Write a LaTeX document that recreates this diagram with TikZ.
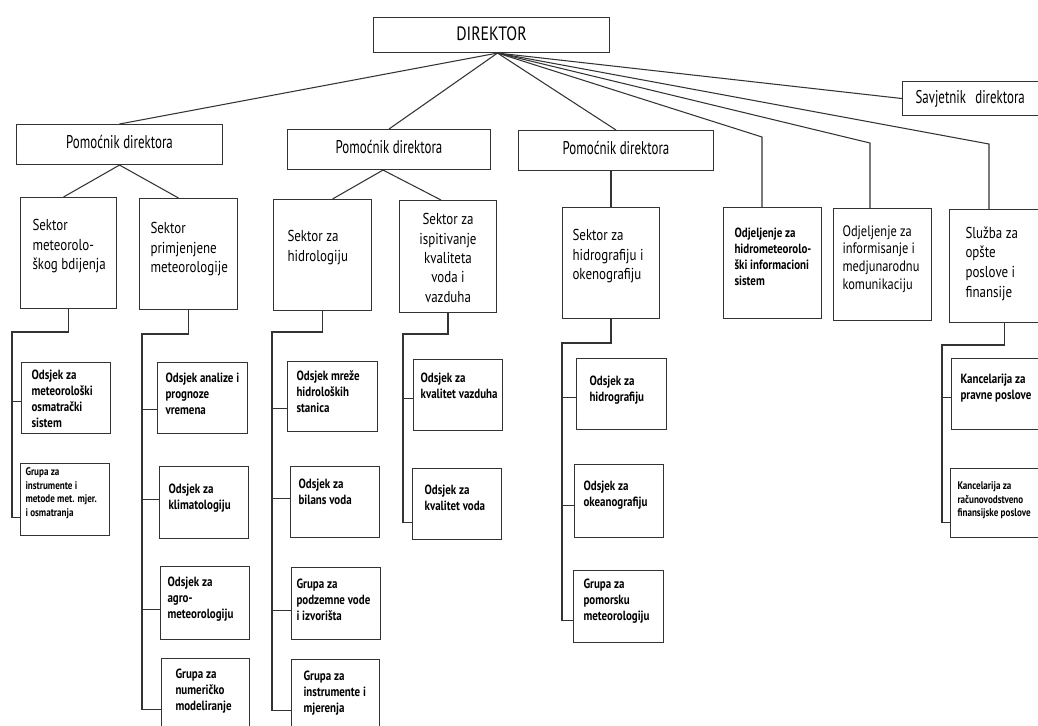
\documentclass[tikz,border=0pt]{standalone}
\usepackage{fontspec}
\setmainfont{PT Sans}[FakeStretch=0.82]
\newfontfamily{\narrowf}{PT Sans}[FakeStretch=0.7]
\usepackage{tikz}

\newlength{\pxl}\setlength{\pxl}{0.2mm}
\newcommand{\txtl}{\fontsize{9}{11}\selectfont}
\newcommand{\txtp}{\narrowf\fontsize{10.5}{12}\selectfont}
\newcommand{\txtm}{\fontsize{7.6}{9.2}\selectfont\bfseries}
\newcommand{\txts}{\fontsize{6.3}{7.8}\selectfont\bfseries}
% name, x, y, width, height, pad x, pad y, text
\newcommand{\orgbox}[8]{%
  \node[box] (#1) at (#2,#3) {\parbox[c][#5\pxl][t]{#4\pxl}{\raggedright\leftskip=#6\pxl\vspace*{#7\pxl}#8}};}

\tikzset{
  box/.style={draw=black!80, line width=0.6pt, inner sep=0pt, anchor=north west},
  link/.style={draw=black!80, line width=0.6pt}
}

\begin{document}
\begin{tikzpicture}[x=0.02cm, y=-0.02cm]
    \path[use as bounding box, clip] (0,0) rectangle (1038,725);

    % top
    \orgbox{dir}{373}{17}{236}{35}{0}{9}{\centering\fontsize{11}{12}\selectfont DIREKTOR}
    \orgbox{p1}{16}{124}{206}{40}{0}{11}{\centering\txtp Pomoćnik direktora}
    \orgbox{p2}{287}{129}{203}{40}{0}{11}{\centering\txtp Pomoćnik direktora}
    \orgbox{p3}{518}{130}{195}{40}{0}{11}{\centering\txtp Pomoćnik direktora}
    \orgbox{sav}{902}{81}{145}{34}{13}{9}{\txtp Savjetnik\enspace direktora}

    % sektori
    \orgbox{s1}{20}{197}{96}{111}{12}{22}{\txtl Sektor\\ meteorolo-\\ škog bdijenja}
    \orgbox{s2}{139}{198}{98}{111}{11}{24}{\txtl Sektor\\ primjenjene\\ meteorologije}
    \orgbox{s3}{273}{199}{98}{111}{14}{31}{\txtl Sektor za\\ hidrologiju}
    \orgbox{s4}{399}{200}{97}{112}{0}{13}{\centering\txtl Sektor za\\ ispitivanje\\ kvaliteta\\ voda i\\ vazduha}
    \orgbox{s5}{562}{207}{97}{111}{10}{22}{\txtl Sektor za\\ hidrografiju i\\ okenografiju}
    \orgbox{odj1}{723}{207}{98}{111}{11}{20}{\txtm Odjeljenje za\\ hidrometeorolo-\\ ški informacioni\\ sistem}
    \orgbox{odj2}{833}{208}{98}{112}{9}{17}{\fontsize{8.6}{10}\selectfont Odjeljenje za\\ informisanje i\\ medjunarodnu\\ komunikaciju}
    \orgbox{sl}{949}{209}{110}{113}{16}{17}{\fontsize{9}{11.3}\selectfont Služba za\\ opšte\\ poslove i\\ finansije}

    % odsjeci i grupe
    \orgbox{o11}{21}{362}{89}{71}{10}{7}{\txtm Odsjek za\\ meteorološki\\ osmatrački\\ sistem}
    \orgbox{g12}{20}{463}{89}{72}{5}{4}{\txts Grupa za\\ instrumente i\\ metode met. mjer.\\ i osmatranja}
    \orgbox{o21}{157}{362}{90}{71}{8}{10}{\txtm Odsjek analize i\\ prognoze\\ vremena}
    \orgbox{o22}{159}{466}{89}{72}{9}{17}{\txtm Odsjek za\\ klimatologiju}
    \orgbox{o23}{160}{566}{89}{73}{7}{10}{\txtm Odsjek za\\ agro-\\ meteorologiju}
    \orgbox{g24}{161}{658}{88}{72}{14}{10}{\txtm Grupa za\\ numeričko\\ modeliranje}
    \orgbox{o31}{287}{361}{90}{70}{9}{9}{\txtm Odsjek mreže\\ hidroloških\\ stanica}
    \orgbox{o32}{290}{466}{89}{71}{8}{12}{\txtm Odsjek za\\ bilans voda}
    \orgbox{g33}{291}{567}{89}{72}{5}{11}{\txtm Grupa za\\ podzemne vode\\ i izvorišta}
    \orgbox{g34}{291}{659}{88}{72}{12}{11}{\txtm Grupa za\\ instrumente i\\ mjerenja}
    \orgbox{o41}{413}{359}{89}{71}{7}{13}{\txtm Odsjek za\\ kvalitet vazduha}
    \orgbox{o42}{412}{468}{89}{71}{12}{16}{\txtm Odsjek za\\ kvalitet voda}
    \orgbox{o51}{576}{358}{90}{71}{13}{17}{\txtm Odsjek za\\ hidrografiju}
    \orgbox{o52}{574}{464}{89}{73}{9}{16}{\txtm Odsjek za\\ okeanografiju}
    \orgbox{g53}{573}{570}{90}{72}{10}{8}{\txtm Grupa za\\ pomorsku\\ meteorologiju}
    \orgbox{k61}{951}{358}{100}{71}{9}{15}{\txtm Kancelarija za\\ pravne poslove}
    \orgbox{k62}{950}{468}{100}{69}{7}{13}{\txts Kancelarija za\\ računovodstveno\\ finansijske poslove}

    % direktor
    \coordinate (hub) at ([xshift=6\pxl]dir.south);
    \foreach \n in {p1,p2,p3} \draw[link] (hub) -- (\n.north);
    \draw[link] (hub) -- (sav.west);
    \coordinate (b1) at (762,137);
    \coordinate (b2) at (870,143);
    \coordinate (b3) at (989,144);
    \draw[link] (hub) -- (b1) -- (b1 |- odj1.north);
    \draw[link] (hub) -- (b2) -- (b2 |- odj2.north);
    \draw[link] (hub) -- (b3) -- (b3 |- sl.north);

    % pomocnici
    \draw[link] (p1.south) -- ([xshift=-5\pxl]s1.north);
    \draw[link] (p1.south) -- ([xshift=-10\pxl]s2.north);
    \draw[link] ([xshift=-6\pxl]p2.south) -- ([xshift=10\pxl]s3.north);
    \draw[link] ([xshift=-6\pxl]p2.south) -- ([xshift=-7\pxl]s4.north);
    \draw[link] (s5.north |- p3.south) -- (s5.north);

    % sektori prema odsjecima
    \coordinate (t1) at (12,332);
    \coordinate (t2) at (142,334);
    \coordinate (t3) at (272,332);
    \coordinate (t4) at (403,334);
    \coordinate (t5) at (562,343);
    \coordinate (t6) at (942,345);
    \draw[link] (s1.south) |- (t1) |- ([yshift=-18\pxl]g12.west);
    \draw[link] (s2.south) |- (t2) |- ([yshift=-15\pxl]g24.west);
    \draw[link] (s3.south) |- (t3) |- ([yshift=-15\pxl]g34.west);
    \draw[link] (s4.south) |- (t4) |- ([yshift=-18\pxl]o42.west);
    \draw[link] (s5.south) |- (t5) |- ([yshift=-14\pxl]g53.west);
    \draw[link] (sl.south) |- (t6) |- ([yshift=-19\pxl]k62.west);
    \foreach \c/\dy/\t in {o11/-3/t1, o21/-11/t2, o22/3/t2, o23/-6/t2,
                           o31/-12/t3, o32/4/t3, g33/-7/t3, o41/-3/t4,
                           o51/-3/t5, o52/-4/t5, k61/-3/t6}
      \draw[link] ([yshift=\dy\pxl]\c.west) -- ([yshift=\dy\pxl]\c.west -| \t);

\end{tikzpicture}
\end{document}
